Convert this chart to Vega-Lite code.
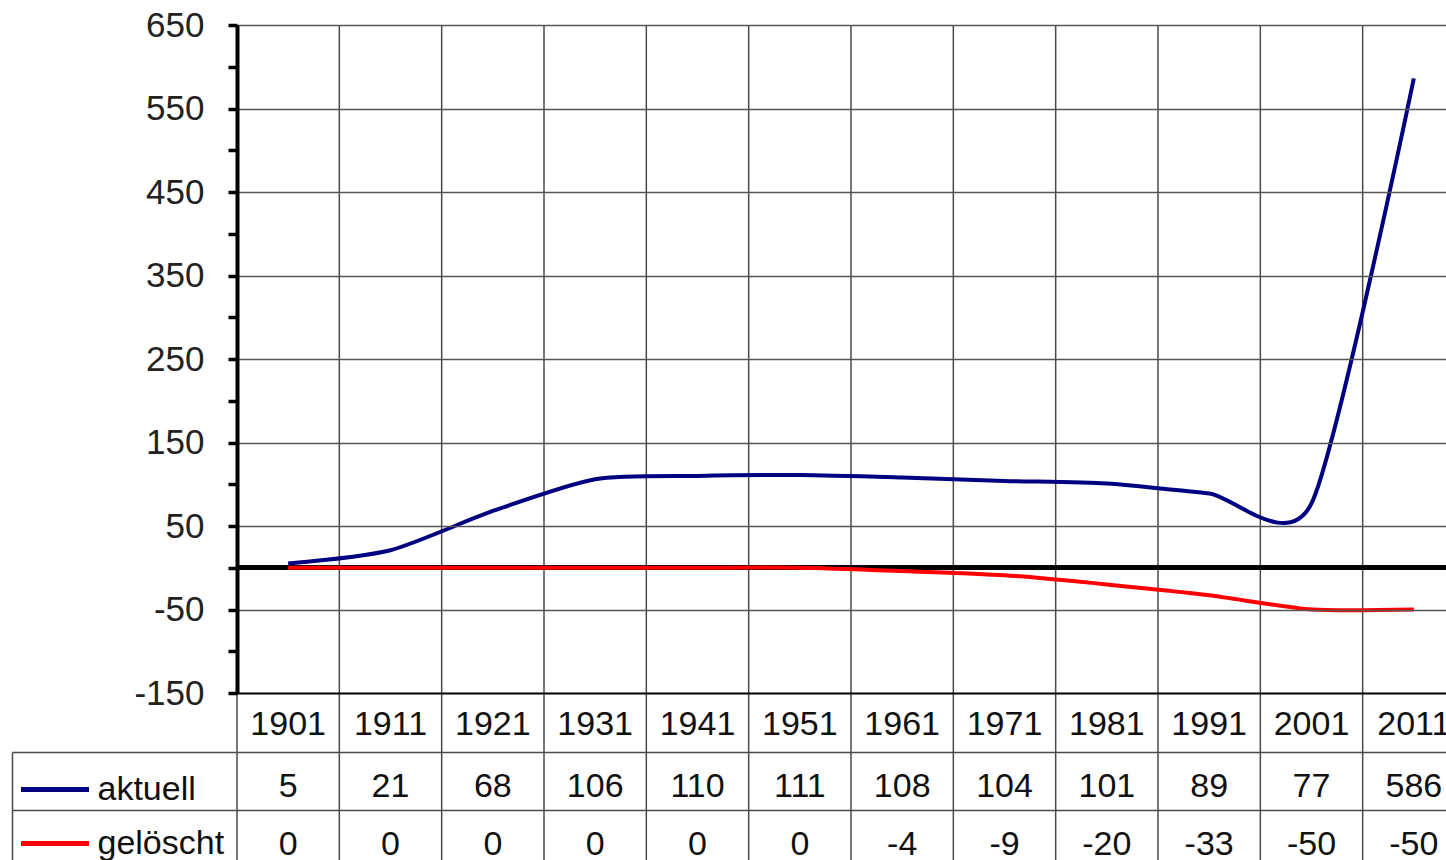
{
  "$schema": "https://vega.github.io/schema/vega-lite/v6.json",
  "autosize": {"type": "none"},
  "width": 1209,
  "height": 835,
  "padding": {"left": 237, "top": 25, "right": 0, "bottom": 0},
  "background": "white",
  "config": {"view": {"stroke": null}, "font": "Liberation Sans"},
  "data": {
    "values": [
      {"year": "1901", "aktuell": 5, "gelöscht": 0},
      {"year": "1911", "aktuell": 21, "gelöscht": 0},
      {"year": "1921", "aktuell": 68, "gelöscht": 0},
      {"year": "1931", "aktuell": 106, "gelöscht": 0},
      {"year": "1941", "aktuell": 110, "gelöscht": 0},
      {"year": "1951", "aktuell": 111, "gelöscht": 0},
      {"year": "1961", "aktuell": 108, "gelöscht": -4},
      {"year": "1971", "aktuell": 104, "gelöscht": -9},
      {"year": "1981", "aktuell": 101, "gelöscht": -20},
      {"year": "1991", "aktuell": 89, "gelöscht": -33},
      {"year": "2001", "aktuell": 77, "gelöscht": -50},
      {"year": "2011", "aktuell": 586, "gelöscht": -50}
    ]
  },
  "layer": [
    {
      "mark": {"type": "rule", "color": "#4a4a4a", "strokeWidth": 1.5},
      "encoding": {
        "x": {
          "field": "year",
          "type": "nominal",
          "bandPosition": 0,
          "sort": null,
          "scale": {"type": "band", "range": [0, 1228], "paddingInner": 0, "paddingOuter": 0},
          "axis": {
            "orient": "bottom",
            "offset": -167,
            "title": null,
            "ticks": false,
            "grid": false,
            "domain": true,
            "domainColor": "black",
            "domainWidth": 2,
            "labelFontSize": 34,
            "labelColor": "#111",
            "labelPadding": 14,
            "labelAngle": 0,
            "zindex": 1
          }
        }
      }
    },
    {
      "layer": [
        {
          "mark": {"type": "rule", "color": "black", "strokeWidth": 4},
          "encoding": {"y": {"datum": 0, "type": "quantitative"}}
        },
        {
          "transform": [{"fold": ["aktuell", "gelöscht"], "as": ["serie", "wert"]}],
          "mark": {"type": "line", "interpolate": "cardinal", "tension": 0.3, "strokeWidth": 4},
          "encoding": {
            "x": {"field": "year", "type": "nominal", "sort": null},
            "y": {
              "field": "wert",
              "type": "quantitative",
              "scale": {"domain": [-150, 650], "range": [668, 0], "nice": false, "zero": false},
              "axis": {
                "orient": "left",
                "title": null,
                "values": [-150, -100, -50, 0, 50, 100, 150, 200, 250, 300, 350, 400, 450, 500, 550, 600, 650],
                "labelExpr": "(datum.value + 150) % 100 == 0 ? '' + datum.value : ''",
                "domainColor": "black",
                "domainWidth": 4,
                "tickColor": "black",
                "tickWidth": 3.5,
                "tickSize": 9,
                "labelFontSize": 35,
                "labelColor": "#222",
                "labelPadding": 24,
                "grid": true,
                "gridColor": "#555",
                "gridWidth": 1.5,
                "gridOpacity": {"condition": {"test": "(datum.value + 150) % 100 != 0 || datum.value == -150", "value": 0}, "value": 1},
                "zindex": 1
              }
            },
            "color": {
              "field": "serie",
              "type": "nominal",
              "scale": {"domain": ["aktuell", "gelöscht"], "range": ["#000080", "#ff0000"]},
              "legend": {
                "orient": "none",
                "legendX": -218.5,
                "legendY": 728,
                "title": null,
                "padding": 0,
                "symbolType": "stroke",
                "symbolSize": 4624,
                "symbolStrokeWidth": 5,
                "labelFontSize": 34,
                "labelColor": "#111",
                "labelOffset": 6,
                "rowPadding": -18,
                "direction": "vertical"
              }
            }
          }
        }
      ]
    },
    {
      "transform": [{"fold": ["aktuell", "gelöscht"], "as": ["serie", "wert"]}],
      "mark": {"type": "text", "fontSize": 34, "color": "#111", "dy": 6},
      "encoding": {
        "x": {"field": "year", "type": "nominal", "sort": null},
        "y": {
          "field": "serie",
          "type": "nominal",
          "scale": {"type": "band", "domain": ["aktuell", "gelöscht"], "range": [727, 843], "paddingInner": 0, "paddingOuter": 0},
          "axis": {
            "orient": "left",
            "offset": 225,
            "title": null,
            "labels": false,
            "domain": true,
            "domainColor": "#4a4a4a",
            "domainWidth": 1.5,
            "ticks": true,
            "tickSize": -225,
            "tickColor": "#4a4a4a",
            "tickWidth": 1.5,
            "bandPosition": 0,
            "grid": true,
            "gridColor": "#4a4a4a",
            "gridWidth": 1.5
          }
        },
        "text": {"field": "wert", "type": "nominal"}
      }
    }
  ],
  "resolve": {"scale": {"y": "independent"}, "axis": {"y": "independent"}}
}
